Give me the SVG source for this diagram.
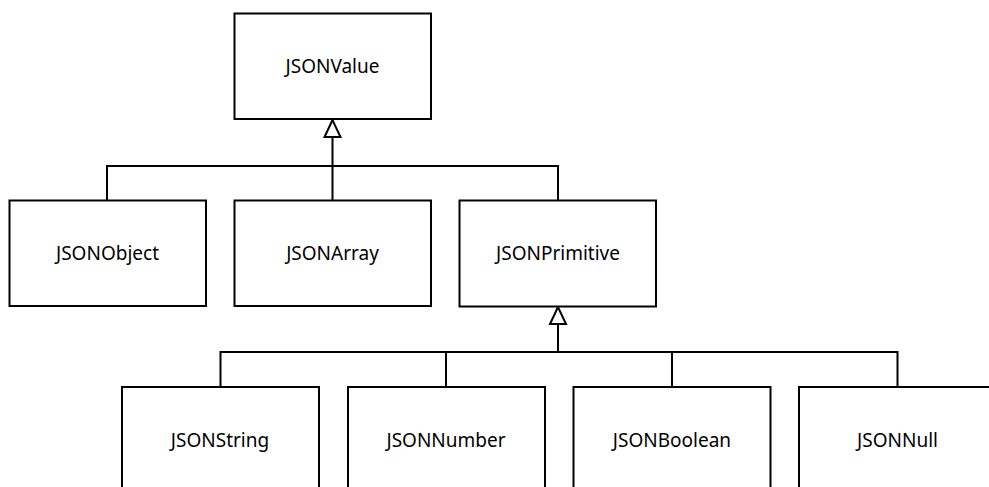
<svg xmlns="http://www.w3.org/2000/svg" width="989" height="487" viewBox="0 0 989 487">
  <style>
    .box { fill: #ffffff; stroke: #000000; stroke-width: 2; }
    .lbl { font-family: "Noto Sans", "Open Sans", sans-serif; font-size: 19px; fill: #000000; text-anchor: middle; }
    .wire { fill: none; stroke: #000000; stroke-width: 2; }
    .head { fill: #ffffff; stroke: #000000; stroke-width: 2; stroke-linejoin: miter; }
  </style>
  <rect width="989" height="487" fill="#ffffff"/>

  <!-- inheritance connectors -->
  <g id="connectors">
    <polyline class="wire" points="107,201 107,166 558,166 558,201"/>
    <line class="wire" x1="332.5" y1="137" x2="332.5" y2="201"/>
    <polygon class="head" points="332.5,120 324.5,137 340.5,137"/>

    <polyline class="wire" points="220.5,387 220.5,352 897.5,352 897.5,387"/>
    <line class="wire" x1="446" y1="352" x2="446" y2="387"/>
    <line class="wire" x1="672" y1="352" x2="672" y2="387"/>
    <line class="wire" x1="558" y1="324" x2="558" y2="352"/>
    <polygon class="head" points="558,307 550,324 566,324"/>
  </g>

  <g id="json-value">
    <rect class="box" x="234.5" y="13.5" width="196.5" height="105.5"/>
    <text class="lbl" x="332.5" y="73">JSONValue</text>
  </g>

  <g id="json-object">
    <rect class="box" x="9.5" y="200.5" width="196.5" height="105.5"/>
    <text class="lbl" x="107.5" y="260">JSONObject</text>
  </g>

  <g id="json-array">
    <rect class="box" x="234.5" y="200.5" width="196.5" height="105.5"/>
    <text class="lbl" x="332.5" y="260">JSONArray</text>
  </g>

  <g id="json-primitive">
    <rect class="box" x="459.5" y="200.5" width="196.5" height="106"/>
    <text class="lbl" x="558" y="260">JSONPrimitive</text>
  </g>

  <g id="json-string">
    <rect class="box" x="122" y="387" width="197" height="110"/>
    <text class="lbl" x="220" y="447">JSONString</text>
  </g>

  <g id="json-number">
    <rect class="box" x="348" y="387" width="197" height="110"/>
    <text class="lbl" x="446" y="447">JSONNumber</text>
  </g>

  <g id="json-boolean">
    <rect class="box" x="573.5" y="387" width="197" height="110"/>
    <text class="lbl" x="672" y="447">JSONBoolean</text>
  </g>

  <g id="json-null">
    <rect class="box" x="799" y="387" width="197" height="110"/>
    <text class="lbl" x="897.5" y="447">JSONNull</text>
  </g>
</svg>
